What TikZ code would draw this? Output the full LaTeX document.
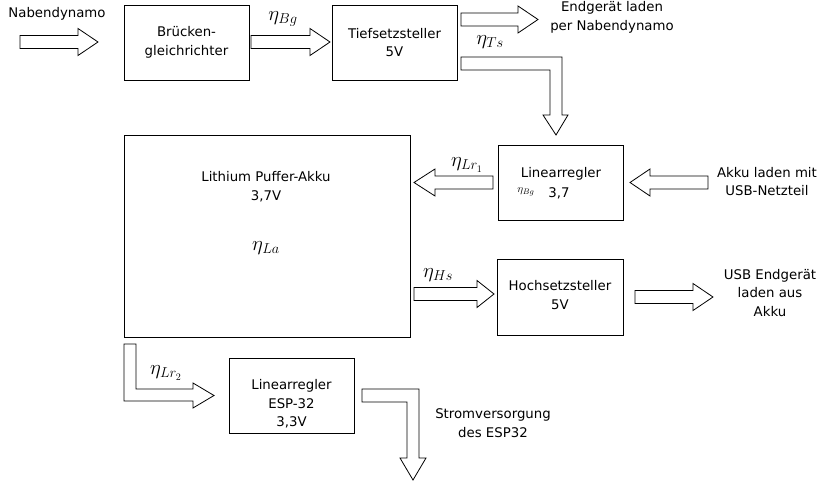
\documentclass[tikz,border=0pt]{standalone}
\usepackage{fontspec}
\setmainfont{DejaVu Sans}
\tikzset{
  blk/.style={draw=black, line width=0.8pt, fill=white, line join=miter},
  box/.style={draw=black, line width=0.8pt, inner sep=0pt},
  txt/.style={align=center, font=\fontsize{13.3}{18.5}\selectfont, inner sep=0pt},
  eta/.style={inner sep=0pt, font=\fontsize{20}{22}\selectfont},
}
\newcommand\hblk[4]{%
  \draw[blk] (#1,#4-6.5) -- (#2,#4-6.5) -- (#2,#4-13.5) -- (#3,#4) -- (#2,#4+13.5) -- (#2,#4+6.5) -- (#1,#4+6.5) -- cycle;}
\begin{document}
\begin{tikzpicture}[x=1pt,y=-1pt]
\useasboundingbox (0,0) rectangle (828,481);
% boxes
\node[box, minimum width=125pt, minimum height=75pt] (bg) at (186.5,42.5) {};
\node[box, minimum width=125pt, minimum height=75pt] (ts) at (394.5,42.5) {};
\node[box, minimum width=125pt, minimum height=75pt] (lr1) at (560.5,182.5) {};
\node[box, minimum width=286pt, minimum height=202pt] (akku) at (267,236) {};
\node[box, minimum width=126pt, minimum height=76pt] (hs) at (560,297) {};
\node[box, minimum width=125pt, minimum height=75pt] (esp) at (291.5,395.5) {};
% box texts
\node[txt] (tbg) at (bg) {Brücken-\\gleichrichter};
\node[txt] (tts) at (ts) {Tiefsetzsteller\\5V};
\node[txt] (tlr1) at (561,174) {Linearregler};
\node[inner sep=0pt, font=\fontsize{11}{12}\selectfont] (tlr1eta) at (526,192) {$\eta_{Bg}$};
\node[txt] (tlr1v) at (559,193) {3,7};
\node[txt] (takku) at (266,186.5) {Lithium Puffer-Akku\\3,7V};
\node[eta] (etala) at (266,248) {$\eta_{La}$};
\node[txt] (ths) at (560,295) {Hochsetzsteller\\5V};
\node[txt] (tesp) at (291.5,404) {Linearregler\\ESP-32\\3,3V};
% outside labels
\node[txt] (nab) at (57,14) {Nabendynamo};
\node[txt] (endg) at (612,17.5) {Endgerät laden\\per Nabendynamo};
\node[txt] (usbn) at (767,181.5) {Akku laden mit\\USB-Netzteil};
\node[txt] (usbe) at (770,293) {USB Endgerät\\laden aus\\Akku};
\node[txt] (strom) at (493,423) {Stromversorgung\\des ESP32};
% eta labels
\node[eta] (ebg) at (283,19) {$\eta_{Bg}$};
\node[eta] (ets) at (490,42) {$\eta_{Ts}$};
\node[eta] (elr1) at (467,165) {$\eta_{Lr_1}$};
\node[eta] (ehs) at (438,275) {$\eta_{Hs}$};
\node[eta] (elr2) at (166,373) {$\eta_{Lr_2}$};
% straight block arrows
\hblk{20}{78}{98}{42}
\hblk{251}{310}{330}{42}
\hblk{461}{518}{538}{19.5}
\hblk{493}{435}{414}{182.5}
\hblk{708}{650}{630}{182.5}
\hblk{414}{477}{494}{294}
\hblk{635}{693}{713}{297}
% L-shaped block arrows
\draw[blk] (461,57) -- (562,57) -- (562,115) -- (568,115) -- (556,135) -- (543,115) -- (550,115) -- (550,70) -- (461,70) -- cycle;
\draw[blk] (124,344) -- (136,344) -- (136,389) -- (193,389) -- (193,383) -- (214,395.5) -- (193,408) -- (193,401) -- (124,401) -- cycle;
\draw[blk] (362,389) -- (419,389) -- (419,458) -- (426,458) -- (413,480) -- (400,458) -- (407,458) -- (407,402) -- (362,402) -- cycle;
\end{tikzpicture}
\end{document}
